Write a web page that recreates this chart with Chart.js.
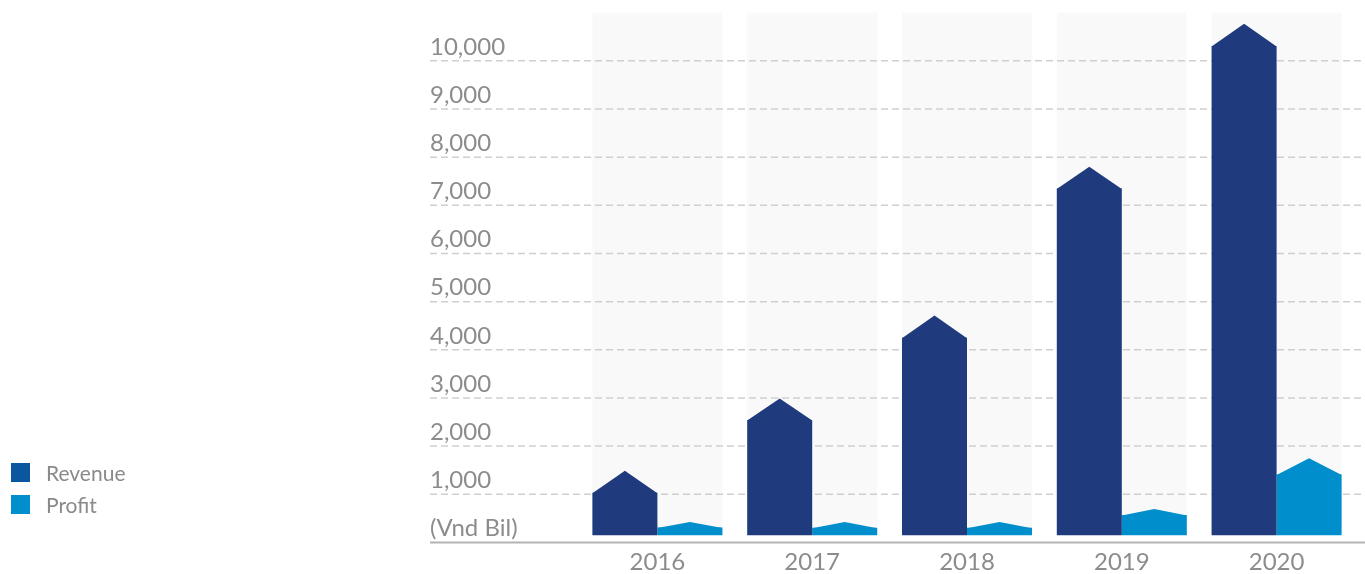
<!DOCTYPE html>
<html>
<head>
<meta charset="utf-8">
<script src="https://cdn.jsdelivr.net/npm/chart.js@4.4.1/dist/chart.umd.min.js"></script>
<style>
  html, body { margin: 0; padding: 0; background: #fff; }
  #wrap { position: relative; width: 1365px; height: 574px; }
  #legend { position: absolute; left: 0; top: 0; font-family: Lato, sans-serif; font-size: 21px; line-height: 19px; color: #8a8a8a; }
  .item { position: absolute; left: 11px; height: 19px; display: flex; align-items: center; white-space: nowrap; }
  .box { width: 19px; height: 19px; margin-right: 16px; }
</style>
</head>
<body>
<div id="wrap">
  <canvas id="chart"></canvas>
  <div id="legend"></div>
</div>
<script>
// data (Vnd Bil)
const years = ['2016', '2017', '2018', '2019', '2020'];
const seriesNames = ['Revenue', 'Profit'];
// where the roof starts (body of the bar)
const revenue = [1030, 2540, 4250, 7350, 10310];
const profit = [310, 305, 305, 570, 1410];
// tip of the roof
const revenuePeak = [1490, 2990, 4710, 7800, 10770];
const profitPeak = [425, 425, 425, 695, 1750];
const yMax = 11000;
const yStep = 1000;
const unitLabel = '(Vnd Bil)';

const barColors = ['#1f3b7d', '#008fcc'];
const legendColors = ['#0b579f', '#008fcc'];
const textColor = '#8c8c8c';
const barBase = 150; // bars float a little above the axis line

// legend, built by hand so it sits bottom-left like the original
const legendEl = document.getElementById('legend');
seriesNames.forEach((name, i) => {
  const item = document.createElement('div');
  item.className = 'item';
  item.style.top = (463 + i * 32.3) + 'px';
  item.innerHTML = '<span class="box" style="background:' + legendColors[i] + '"></span><span>' + name + '</span>';
  legendEl.appendChild(item);
});

// grey bands, dashed grid and the base line
const framePlugin = {
  id: 'frame',
  beforeDatasetsDraw(chart) {
    const { ctx, chartArea, scales: { x, y } } = chart;
    const m0 = chart.getDatasetMeta(0).data;
    const m1 = chart.getDatasetMeta(1).data;
    const basePx = y.getPixelForValue(barBase);
    ctx.save();
    ctx.fillStyle = '#f9f9f9';
    years.forEach((_, i) => {
      const left = m0[i].x - m0[i].width / 2;
      const right = m1[i].x + m1[i].width / 2;
      ctx.fillRect(left, chartArea.top, right - left, basePx - chartArea.top);
    });

    ctx.setLineDash([7, 4]);
    ctx.strokeStyle = '#cfcfcf';
    ctx.lineWidth = 1.5;
    y.ticks.forEach(t => {
      if (t.value <= 0 || t.value >= yMax) return;
      const py = y.getPixelForValue(t.value);
      ctx.beginPath();
      ctx.moveTo(y.left, py);
      ctx.lineTo(chart.width, py);
      ctx.stroke();
    });

    ctx.setLineDash([]);
    ctx.strokeStyle = '#b4b4b4';
    ctx.lineWidth = 2;
    const zero = y.getPixelForValue(0);
    ctx.beginPath();
    ctx.moveTo(y.left, zero);
    ctx.lineTo(chart.width, zero);
    ctx.stroke();
    ctx.restore();
  }
};

// pointed roof on top of each bar
const roofPlugin = {
  id: 'roof',
  afterDatasetsDraw(chart) {
    const { ctx, scales: { y } } = chart;
    ctx.save();
    [revenuePeak, profitPeak].forEach((peaks, d) => {
      ctx.fillStyle = barColors[d];
      chart.getDatasetMeta(d).data.forEach((bar, i) => {
        const left = bar.x - bar.width / 2;
        const right = bar.x + bar.width / 2;
        ctx.beginPath();
        ctx.moveTo(left, bar.y + 0.5);
        ctx.lineTo(bar.x, y.getPixelForValue(peaks[i]));
        ctx.lineTo(right, bar.y + 0.5);
        ctx.closePath();
        ctx.fill();
      });
    });
    ctx.restore();
  }
};

const tickFont = { family: 'Lato', size: 24 };

new Chart(document.getElementById('chart'), {
  type: 'bar',
  data: {
    labels: years,
    datasets: [
      { label: seriesNames[0], data: revenue, backgroundColor: barColors[0] },
      { label: seriesNames[1], data: profit, backgroundColor: barColors[1] }
    ]
  },
  options: {
    responsive: true,
    maintainAspectRatio: false,
    animation: false,
    datasets: {
      bar: { base: barBase, barPercentage: 1, categoryPercentage: 0.84, borderWidth: 0 }
    },
    layout: { padding: { left: 430, right: 11, top: 12.7, bottom: 0 } },
    scales: {
      x: {
        grid: { display: false, drawTicks: false },
        border: { display: false },
        ticks: { color: textColor, font: tickFont, padding: 5 },
        afterFit: s => { s.height = 31.6; s.paddingLeft = 0; s.paddingRight = 0; }
      },
      y: {
        min: 0,
        max: yMax,
        grid: { display: false, drawTicks: false },
        border: { display: false },
        ticks: {
          stepSize: yStep,
          crossAlign: 'far',
          labelOffset: -14,
          padding: 0,
          color: textColor,
          font: tickFont,
          callback: v => v === 0 ? unitLabel : (v >= yMax ? '' : v.toLocaleString('en-US'))
        },
        afterFit: s => { s.width = 150; s.paddingTop = 0; s.paddingBottom = 0; }
      }
    },
    plugins: {
      legend: { display: false },
      tooltip: { enabled: false }
    }
  },
  plugins: [framePlugin, roofPlugin]
});
</script>
</body>
</html>
